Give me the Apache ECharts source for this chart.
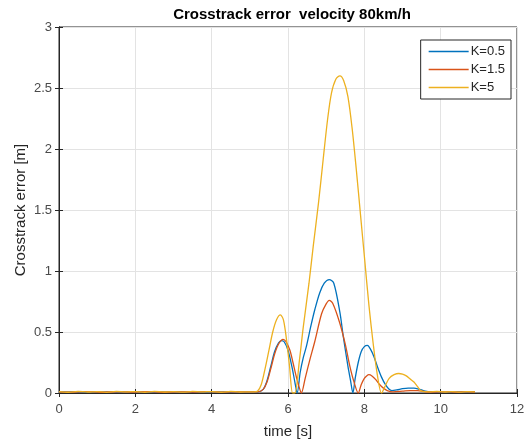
<!DOCTYPE html>
<html>
<head>
<meta charset="utf-8">
<script src="https://cdn.jsdelivr.net/npm/echarts@6/dist/echarts.min.js"></script>
<style>html,body{margin:0;padding:0;background:#fff;}#c{width:530px;height:441px;}</style>
</head>
<body>
<div id="c"></div>
<script>
var titleText = 'Crosstrack error  velocity 80km/h';
var xName = 'time [s]';
var yName = 'Crosstrack error [m]';
var seriesNames = ['K=0.5', 'K=1.5', 'K=5'];
var xTicks = [0, 2, 4, 6, 8, 10, 12];
var yTicks = [0, 0.5, 1, 1.5, 2, 2.5, 3];

var tBlue = [0,0.4,0.8,1.2,1.6,2.0,2.4,2.8,3.2,3.6,4.0,4.4,4.8,5.2,5.35,5.45,5.55,5.65,5.75,5.83,5.9,6.0,6.1,6.18,6.24,6.32,6.4,6.48,6.6,6.7,6.83,6.95,7.08,7.2,7.36,7.45,7.57,7.64,7.70,7.76,7.84,7.92,8.0,8.08,8.16,8.25,8.35,8.45,8.55,8.65,8.72,8.85,9.0,9.15,9.3,9.45,9.6,9.8,10.0,10.2,10.4,10.6,10.9];
var vBlue = [0.008,0.01,0.006,0.01,0.008,0.01,0.007,0.01,0.009,0.006,0.01,0.008,0.01,0.01,0.03,0.1,0.22,0.34,0.41,0.43,0.42,0.35,0.22,0.09,0,0.17,0.29,0.38,0.55,0.68,0.82,0.9,0.93,0.9,0.66,0.46,0.22,0.1,0,0.12,0.25,0.34,0.38,0.39,0.36,0.3,0.21,0.13,0.07,0.03,0.02,0.025,0.035,0.04,0.04,0.03,0.015,0.008,0.01,0.006,0.01,0.008,0.008];

var tRed = [0,0.3,0.7,1.1,1.5,1.9,2.3,2.7,3.1,3.5,3.9,4.3,4.7,5.2,5.35,5.45,5.55,5.65,5.75,5.87,5.95,6.05,6.13,6.22,6.3,6.35,6.45,6.57,6.7,6.88,7.0,7.08,7.18,7.36,7.5,7.62,7.72,7.84,7.92,8.0,8.06,8.12,8.2,8.3,8.4,8.5,8.6,8.75,9.0,9.2,9.4,9.6,9.8,10.1,10.4,10.7,10.9];
var vRed = [0.01,0.007,0.012,0.006,0.01,0.008,0.012,0.006,0.01,0.008,0.011,0.007,0.01,0.01,0.03,0.09,0.2,0.32,0.4,0.44,0.42,0.35,0.25,0.13,0.04,0,0.12,0.27,0.42,0.65,0.73,0.76,0.73,0.57,0.4,0.22,0.1,0,0.07,0.12,0.14,0.15,0.14,0.11,0.07,0.04,0.02,0.01,0.015,0.02,0.02,0.01,0.008,0.01,0.007,0.01,0.008];

var tYellow = [0,0.25,0.5,0.75,1.0,1.25,1.5,1.75,2.0,2.25,2.5,2.75,3.0,3.25,3.5,3.75,4.0,4.25,4.5,4.75,5.0,5.1,5.2,5.3,5.4,5.5,5.6,5.7,5.8,5.88,5.96,6.04,6.12,6.18,6.3,6.4,6.55,6.66,6.8,6.92,7.04,7.14,7.25,7.36,7.46,7.57,7.68,7.79,7.9,8.01,8.12,8.23,8.34,8.45,8.55,8.65,8.78,8.9,9.0,9.1,9.2,9.3,9.4,9.5,9.7,9.9,10.1,10.3,10.5,10.7,10.9];
var vYellow = [0.012,0.006,0.014,0.008,0.012,0.005,0.013,0.009,0.012,0.006,0.014,0.008,0.012,0.007,0.013,0.009,0.012,0.006,0.013,0.008,0.01,0.01,0.015,0.07,0.2,0.35,0.5,0.6,0.64,0.6,0.44,0.22,0,0,0.27,0.54,0.9,1.2,1.56,1.91,2.25,2.46,2.57,2.6,2.56,2.43,2.17,1.83,1.46,1.09,0.72,0.41,0.15,0,0.06,0.12,0.15,0.16,0.155,0.14,0.115,0.09,0.05,0.015,0.01,0.013,0.008,0.012,0.007,0.012,0.01];

var colors = ['#0072BD', '#D95319', '#EDB120'];

function pairs(t, v) { return t.map(function (x, i) { return [x, v[i]]; }); }

var chart = echarts.init(document.getElementById('c'));
var axisColor = '#262626';
var fam = 'Liberation Sans, Arial, sans-serif';
var labelStyle = { color: '#4a4a4a', fontSize: 13, fontFamily: fam };

chart.setOption({
  animation: false,
  backgroundColor: '#fff',
  color: colors,
  title: {
    text: titleText,
    left: 287,
    textAlign: 'center',
    top: 2,
    textStyle: { fontSize: 15, fontWeight: 'bold', color: '#000', fontFamily: fam }
  },
  legend: {
    data: seriesNames,
    orient: 'vertical',
    right: 19,
    top: 40,
    icon: 'rect',
    itemWidth: 40,
    itemHeight: 1.5,
    itemGap: 5,
    padding: [5, 6, 5, 8],
    borderColor: axisColor,
    borderWidth: 1,
    backgroundColor: '#fff',
    textStyle: { fontSize: 13, color: '#262626', fontFamily: fam, padding: [0, 0, 0, -3] }
  },
  grid: { left: 59, right: 13, top: 27, bottom: 48, show: true, borderColor: axisColor, borderWidth: 1, backgroundColor: '#fff', outerBoundsMode: 'none', containLabel: false },
  xAxis: [{
    type: 'value', min: xTicks[0], max: xTicks[xTicks.length - 1], interval: xTicks[1] - xTicks[0],
    name: xName, nameLocation: 'middle', nameGap: 31, nameMoveOverlap: false,
    nameTextStyle: { fontSize: 15, color: '#262626', fontFamily: fam },
    axisLine: { show: true, lineStyle: { color: axisColor, width: 1 } },
    axisTick: { show: true, inside: true, length: 4, lineStyle: { color: axisColor } },
    axisLabel: Object.assign({ margin: 10 }, labelStyle),
    splitLine: { show: true, lineStyle: { color: '#e3e3e3', width: 1 } }
  }, {
    type: 'value', position: 'top', min: xTicks[0], max: xTicks[xTicks.length - 1], interval: xTicks[1] - xTicks[0],
    axisLine: { show: true, lineStyle: { color: axisColor, width: 1 } },
    axisTick: { show: true, inside: true, length: 4, lineStyle: { color: axisColor } },
    axisLabel: { show: false }, splitLine: { show: false }
  }],
  yAxis: [{
    type: 'value', min: yTicks[0], max: yTicks[yTicks.length - 1], interval: yTicks[1] - yTicks[0],
    name: yName, nameLocation: 'middle', nameGap: 31, nameRotate: 90, nameMoveOverlap: false,
    nameTextStyle: { fontSize: 15, color: '#262626', fontFamily: fam },
    axisLine: { show: true, lineStyle: { color: axisColor, width: 1 } },
    axisTick: { show: true, inside: true, length: 4, lineStyle: { color: axisColor } },
    axisLabel: Object.assign({ margin: 7 }, labelStyle),
    splitLine: { show: true, lineStyle: { color: '#e3e3e3', width: 1 } }
  }, {
    type: 'value', position: 'right', min: yTicks[0], max: yTicks[yTicks.length - 1], interval: yTicks[1] - yTicks[0],
    axisLine: { show: true, lineStyle: { color: axisColor, width: 1 } },
    axisTick: { show: true, inside: true, length: 4, lineStyle: { color: axisColor } },
    axisLabel: { show: false }, splitLine: { show: false }
  }],
  series: [
    { name: seriesNames[0], type: 'line', data: pairs(tBlue, vBlue), symbol: 'none', smooth: 0.3, lineStyle: { width: 1.3 } },
    { name: seriesNames[1], type: 'line', data: pairs(tRed, vRed), symbol: 'none', smooth: 0.3, lineStyle: { width: 1.3 } },
    { name: seriesNames[2], type: 'line', data: pairs(tYellow, vYellow), symbol: 'none', smooth: 0.3, lineStyle: { width: 1.3 } }
  ]
});
</script>
</body>
</html>
